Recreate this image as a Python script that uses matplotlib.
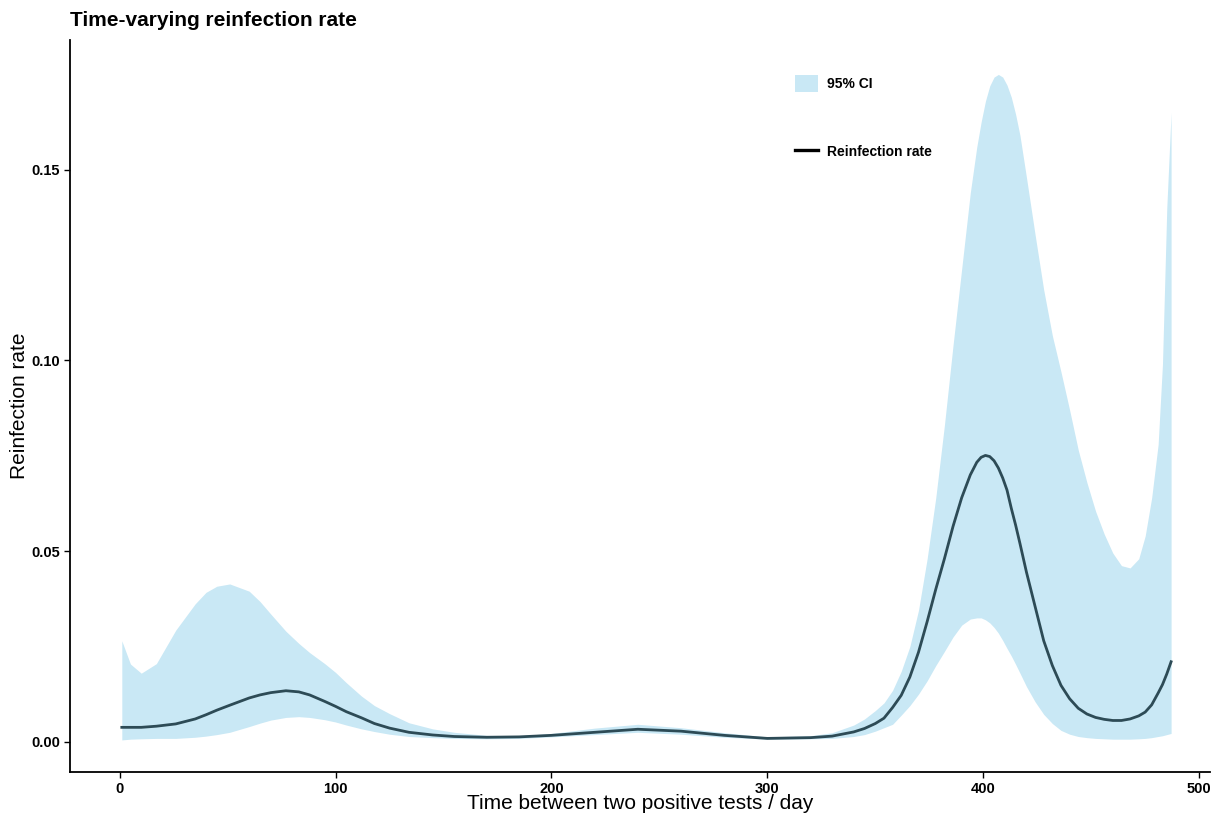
import matplotlib
matplotlib.use("Agg")
import matplotlib.pyplot as plt
from matplotlib.patches import Patch
from matplotlib.lines import Line2D

plt.rcParams['font.family'] = ['Liberation Sans', 'DejaVu Sans']

# days between two positive tests
days = [1, 5, 10, 17, 26, 35, 40, 45, 51, 60, 65, 70, 77, 83, 88, 95, 100, 105, 112,
        118, 125, 134, 145, 155, 170, 185, 200, 220, 240, 260, 280, 300, 320, 330,
        340, 345, 350, 354, 358, 362, 366, 370, 374, 378, 382, 386, 390, 394, 397,
        399, 401, 403, 405, 407, 409, 411, 413, 415, 417, 420, 424, 428, 432, 436,
        440, 444, 448, 452, 456, 460, 464, 468, 472, 475, 478, 481, 483, 485, 487]

rate = [0.0038, 0.0038, 0.0038, 0.0041, 0.0047, 0.0060, 0.0071, 0.0083, 0.0096,
        0.0115, 0.0123, 0.0129, 0.0134, 0.0131, 0.0123, 0.0106, 0.0093, 0.0079,
        0.0063, 0.0048, 0.0036, 0.0025, 0.0018, 0.0014, 0.0012, 0.0013, 0.0017,
        0.0025, 0.0033, 0.0028, 0.0017, 0.0009, 0.0011, 0.0015, 0.0026, 0.0035,
        0.0048, 0.0062, 0.0090, 0.0122, 0.0170, 0.0235, 0.0315, 0.0400, 0.0480,
        0.0565, 0.0640, 0.0700, 0.0733, 0.0746, 0.0751, 0.0748, 0.0737, 0.0718,
        0.0692, 0.0660, 0.0612, 0.0568, 0.0520, 0.0445, 0.0355, 0.0265, 0.0200,
        0.0148, 0.0113, 0.0088, 0.0073, 0.0064, 0.0059, 0.0056, 0.0056, 0.0060,
        0.0068, 0.0078, 0.0097, 0.0128, 0.0150, 0.0178, 0.0210]

ci_upper = [0.0265, 0.0204, 0.0180, 0.0205, 0.0293, 0.0362, 0.0392, 0.0408, 0.0414,
            0.0395, 0.0368, 0.0335, 0.0290, 0.0258, 0.0234, 0.0205, 0.0182, 0.0155,
            0.0120, 0.0095, 0.0074, 0.0050, 0.0034, 0.0025, 0.0017, 0.0016, 0.0022,
            0.0036, 0.0046, 0.0037, 0.0024, 0.0013, 0.0016, 0.0024, 0.0044, 0.0060,
            0.0082, 0.0102, 0.0135, 0.0185, 0.0250, 0.0345, 0.0480, 0.0640, 0.0830,
            0.1040, 0.1240, 0.1440, 0.1560, 0.1625, 0.1680, 0.1720, 0.1743, 0.1750,
            0.1743, 0.1722, 0.1690, 0.1645, 0.1590, 0.1480, 0.1330, 0.1185, 0.1065,
            0.0970, 0.0870, 0.0765, 0.0680, 0.0605, 0.0545, 0.0495, 0.0462, 0.0456,
            0.0480, 0.0540, 0.0640, 0.0780, 0.0990, 0.1400, 0.1650]

ci_lower = [0.0005, 0.0007, 0.0008, 0.0009, 0.0009, 0.0012, 0.0015, 0.0019, 0.0025,
            0.0040, 0.0049, 0.0057, 0.0064, 0.0066, 0.0064, 0.0058, 0.0052, 0.0044,
            0.0034, 0.0027, 0.0020, 0.0014, 0.0011, 0.0009, 0.0008, 0.0009, 0.0013,
            0.0019, 0.0025, 0.0020, 0.0012, 0.0007, 0.0008, 0.0009, 0.0014, 0.0019,
            0.0028, 0.0037, 0.0046, 0.0070, 0.0095, 0.0125, 0.0160, 0.0200, 0.0237,
            0.0275, 0.0306, 0.0322, 0.0325, 0.0325, 0.0320, 0.0312, 0.0300, 0.0285,
            0.0266, 0.0245, 0.0225, 0.0203, 0.0180, 0.0145, 0.0105, 0.0072, 0.0048,
            0.0030, 0.0020, 0.0014, 0.0011, 0.0009, 0.0008, 0.0007, 0.0007, 0.0007,
            0.0008, 0.0009, 0.0011, 0.0014, 0.0016, 0.0019, 0.0022]

fill_col = "#c9e8f5"
line_col = "#2d4b56"

fig = plt.figure(figsize=(12.13, 8.15), dpi=100)
ax = fig.add_axes([0.0577, 0.0528, 0.9398, 0.898])

ax.fill_between(days, ci_lower, ci_upper, color=fill_col, linewidth=0)
ax.plot(days, rate, color=line_col, linewidth=2.0)

ax.set_xlim(-23, 505)
ax.set_ylim(-0.0079, 0.184)
ax.set_xticks([0, 100, 200, 300, 400, 500])
ax.set_yticks([0.00, 0.05, 0.10, 0.15])
ax.set_yticklabels(["0.00", "0.05", "0.10", "0.15"])

for s in ["top", "right"]:
    ax.spines[s].set_visible(False)
for s in ["left", "bottom"]:
    ax.spines[s].set_linewidth(1.3)
ax.tick_params(length=4, width=1, labelsize=10.5, pad=3)
for lab in ax.get_xticklabels() + ax.get_yticklabels():
    lab.set_fontweight("bold")

ax.set_xlabel("Time between two positive tests / day", fontsize=15, labelpad=-1)
ax.set_ylabel("Reinfection rate", fontsize=15, labelpad=2)
fig.text(0.0577, 0.963, "Time-varying reinfection rate", fontsize=15,
         fontweight="bold", ha="left", va="bottom")

handles = [Patch(facecolor=fill_col, edgecolor="none", label="95% CI"),
           Line2D([0], [0], color="black", linewidth=2.4, label="Reinfection rate")]
leg = ax.legend(handles=handles, loc="upper left", bbox_to_anchor=(0.6508, 0.9153),
                bbox_transform=fig.transFigure, borderaxespad=0,
                frameon=False, prop={"weight": "bold", "size": 10},
                labelspacing=3.65, handlelength=1.65, handleheight=1.58,
                handletextpad=0.65)

fig.savefig("out.png", dpi=100)
